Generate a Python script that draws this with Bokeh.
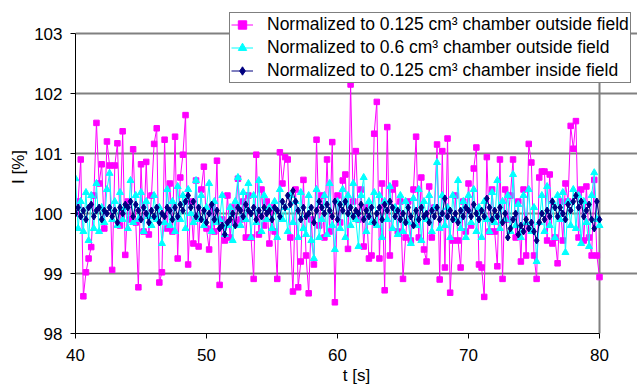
import numpy as np
from bokeh.plotting import figure
from bokeh.models import Legend, LegendItem, Range1d, FixedTicker
from bokeh.embed import file_html
from bokeh.resources import INLINE

# ---- data (sampled every 0.2 s from 40 s to 80 s) ----
t_start = 40.0
t_step = 0.2

label_mag = "Normalized to 0.125 cm³ chamber outside field"
label_cya = "Normalized to 0.6 cm³ chamber outside field"
label_nav = "Normalized to 0.125 cm³ chamber inside field"

mag = [
    100.0, 100.2, 100.9, 98.62, 99.02,
    99.25, 99.44, 100.3, 101.51, 100.5,
    100.82, 99.75, 101.2, 100.8, 99.06,
    100.8, 101.17, 99.8, 101.37, 99.31,
    100.2, 99.9, 101.07, 99.85, 98.77,
    100.82, 99.7, 100.86, 99.65, 100.3,
    101.16, 101.42, 98.85, 99.02, 101.23,
    99.75, 100.5, 99.7, 101.28, 99.25,
    100.6, 100.98, 101.64, 99.15, 100.2,
    99.5, 100.55, 99.45, 100.4, 100.78,
    99.75, 99.4, 100.1, 99.7, 100.88,
    98.81, 99.9, 99.55, 100.3, 99.6,
    100.1, 99.85, 100.58, 99.9, 100.2,
    99.6, 100.3, 99.6, 98.91, 100.98,
    99.65, 100.4, 99.8, 100.2, 99.5,
    100.1, 99.7, 98.91, 101.02, 100.5,
    100.94, 100.9, 99.6, 98.7, 100.4,
    98.77, 99.2, 100.56, 99.3, 98.67,
    99.9, 99.15, 101.23, 99.8, 100.3,
    99.6, 100.9, 99.7, 101.19, 98.52,
    100.3, 99.85, 100.55, 100.65, 99.41,
    102.15, 100.2, 101.04, 99.9, 100.4,
    99.45, 100.1, 99.25, 99.3, 101.33,
    101.86, 99.25, 100.5, 98.72, 101.44,
    99.3, 100.4, 100.5, 99.7, 100.2,
    98.91, 99.6, 100.2, 99.55, 100.4,
    101.28, 99.6, 100.6, 99.4, 99.2,
    100.45, 99.6, 100.1, 101.15, 98.9,
    101.04, 99.1, 101.25, 98.68, 99.55,
    100.3, 99.55, 99.1, 100.2, 99.7,
    100.5, 99.8, 100.75, 101.1, 99.15,
    99.1, 98.61, 100.94, 99.7, 100.4,
    99.7, 99.12, 100.9, 98.91, 100.4,
    99.9, 100.3, 100.9, 99.6, 100.2,
    99.2, 100.4, 99.3, 101.16, 100.85,
    99.3, 98.91, 100.6, 100.7, 100.7,
    99.55, 100.65, 99.5, 99.6, 99.17,
    100.2, 99.55, 100.5, 100.2, 101.46,
    101.08, 101.54, 99.6, 100.4, 99.55,
    100.45, 99.6, 99.3, 100.56, 99.3,
    98.94,
]

cya = [
    100.58, 99.75, 100.2, 99.7, 100.35,
    99.55, 100.3, 99.75, 100.5, 99.7,
    100.1, 99.85, 100.4, 100.67, 99.9,
    100.2, 99.8, 100.35, 99.9, 100.1,
    99.75, 100.55, 99.85, 100.3, 99.9,
    100.35, 99.7, 100.2, 99.95, 99.8,
    100.3, 99.9, 100.1, 99.5, 99.85,
    100.4, 99.8, 100.2, 99.7, 100.45,
    99.9, 100.3, 99.75, 100.4, 100.0,
    99.85, 100.55, 99.9, 100.3, 99.8,
    100.1, 100.5, 99.7, 100.2, 99.85,
    99.9, 100.3, 99.65, 99.8, 100.1,
    99.55, 100.2, 100.6, 99.8, 100.35,
    99.9, 100.5, 99.6, 100.3, 99.85,
    100.55, 99.7, 100.3, 99.9, 100.1,
    99.75, 100.2, 99.6, 100.4, 99.9,
    100.1, 99.7, 100.3, 99.85, 100.2,
    99.6, 100.35, 99.75, 99.65, 100.3,
    99.55, 99.25, 100.4, 99.6, 99.9,
    100.3, 99.65, 100.5, 99.8, 99.4,
    100.2, 99.75, 100.4, 99.6, 100.3,
    99.8, 100.5, 99.9, 99.45, 100.3,
    100.6, 99.7, 100.2, 99.85, 100.35,
    99.8, 100.3, 99.6, 100.2, 99.9,
    100.45, 99.75, 100.1, 99.65, 100.3,
    99.7, 100.2, 99.85, 99.5, 100.25,
    99.8, 100.4, 99.55, 100.2, 99.9,
    100.3, 99.7, 100.1, 100.85, 99.75,
    100.3, 99.8, 100.1, 99.6, 100.3,
    99.9, 100.55, 99.75, 100.2, 99.6,
    100.3, 99.85, 100.4, 99.7, 100.1,
    99.6, 100.2, 99.9, 99.7, 100.35,
    99.85, 100.55, 99.75, 100.2, 99.9,
    100.3, 99.7, 100.65, 99.8, 100.15,
    99.6, 100.3, 99.85, 100.4, 99.7,
    100.1, 99.2, 99.85, 100.3, 99.7,
    100.45, 99.8, 100.2, 99.6, 100.3,
    99.9, 100.35, 99.35, 100.2, 99.8,
    100.4, 99.75, 100.3, 99.5, 100.2,
    99.85, 99.45, 100.3, 100.68, 99.9,
    99.8,
]

nav = [
    100.0, 100.1, 99.95, 100.05, 99.9,
    100.1, 100.15, 99.95, 100.05, 100.1,
    99.9, 100.05, 100.0, 100.1, 99.95,
    100.05, 99.85, 100.1, 100.0, 100.15,
    100.1, 100.2, 99.95, 100.15, 100.05,
    99.9, 100.1, 100.0, 99.85, 100.05,
    99.95, 100.1, 99.85, 100.0, 99.95,
    100.1, 100.05, 99.9, 100.1, 99.95,
    100.15, 100.05, 100.2, 100.3, 100.1,
    100.2, 99.95, 100.1, 99.9, 100.05,
    99.85, 100.0, 100.15, 99.9, 100.05,
    99.75, 99.8, 99.65, 99.85, 99.9,
    100.0, 99.8, 100.1, 100.05, 99.95,
    100.15, 100.05, 100.0, 100.1, 99.9,
    100.05, 99.95, 100.1, 100.0, 100.05,
    99.9, 100.1, 100.05, 99.95, 100.2,
    100.1, 100.3, 100.15, 100.38, 100.2,
    100.05, 99.9, 100.1, 99.95, 100.0,
    100.1, 99.85, 100.05, 100.2, 100.1,
    100.0, 100.15, 100.05, 99.95, 100.2,
    99.9, 100.15, 100.05, 100.2, 100.0,
    100.1, 99.95, 100.05, 100.0, 100.15,
    99.9, 100.05, 99.95, 100.1, 99.85,
    100.0, 100.1, 99.9, 100.15, 100.05,
    100.2, 100.1, 99.95, 100.05, 99.9,
    100.0, 99.85, 100.1, 99.95, 99.8,
    100.05, 99.9, 100.1, 99.95, 100.0,
    99.85, 100.05, 99.95, 100.1, 99.9,
    100.0, 100.25, 99.95, 100.05, 99.9,
    100.0, 99.85, 100.05, 99.95, 100.1,
    100.05, 99.95, 100.15, 100.0, 99.9,
    100.05, 99.95, 100.25, 100.1, 99.9,
    100.05, 99.95, 100.1, 99.85, 100.0,
    99.6, 99.75, 99.9, 100.0, 99.65,
    99.8, 99.7, 99.9, 99.75, 99.85,
    99.7, 99.55, 99.85, 100.0, 99.9,
    100.05, 99.95, 100.2, 100.1, 99.95,
    100.1, 100.0, 99.9, 100.15, 100.05,
    100.2, 100.3, 100.1, 100.2, 99.95,
    100.05, 100.15, 99.9, 99.75, 100.2,
    99.9,
]

x_ticks = [40, 50, 60, 70, 80]
y_ticks = [98, 99, 100, 101, 102, 103]

t = [round(t_start + i * t_step, 1) for i in range(len(mag))]

FONT = "Liberation Sans"

# frame extends to the figure's top and right edges so the legend is not clipped;
# the visible plot area (40-80, 98-103) is bounded by the axes, grid and a border line
W, H = 637, 388
LEFT, BOTTOM = 75, 55
px_per_x = 13.1
px_per_y = 60.0
x_max = x_ticks[0] + (W - LEFT) / px_per_x
y_max = y_ticks[0] + (H - BOTTOM) / px_per_y

p = figure(width=W, height=H, output_backend="svg", toolbar_location=None,
           x_range=Range1d(x_ticks[0], x_max), y_range=Range1d(y_ticks[0], y_max),
           min_border_left=LEFT, min_border_right=0, min_border_top=0,
           min_border_bottom=BOTTOM)
p.background_fill_color = "white"
p.border_fill_color = "white"
p.outline_line_color = None

p.xgrid.visible = False
p.ygrid.grid_line_color = "#808080"
p.ygrid.grid_line_width = 2
p.ygrid.bounds = (x_ticks[0], x_ticks[-1])

# right border of plot area
p.segment(x0=[x_ticks[-1]], y0=[y_ticks[0]], x1=[x_ticks[-1]], y1=[y_ticks[-1]],
          line_color="#808080", line_width=2)

for ax in (p.xaxis, p.yaxis):
    ax.axis_line_color = "black"
    ax.major_tick_line_color = "black"
    ax.major_tick_in = 0
    ax.major_tick_out = 5
    ax.minor_tick_line_color = None
    ax.major_label_text_font = FONT
    ax.major_label_text_font_size = "17px"
    ax.major_label_text_color = "black"
    ax.axis_label_text_font = FONT
    ax.axis_label_text_font_size = "17px"
    ax.axis_label_text_font_style = "normal"
    ax.axis_label_text_color = "black"

p.xaxis.bounds = (x_ticks[0], x_ticks[-1])
p.yaxis.bounds = (y_ticks[0], y_ticks[-1])
p.xaxis.ticker = FixedTicker(ticks=x_ticks)
p.yaxis.ticker = FixedTicker(ticks=y_ticks)
p.xaxis.axis_label = "t [s]"
p.yaxis.axis_label = "I [%]"
p.xaxis.major_label_standoff = 10
p.xaxis.axis_label_standoff = 2
p.yaxis.major_label_standoff = 8
p.yaxis.axis_label_standoff = 3

lm = p.line(t, mag, line_color="#FF00FF", line_width=1)
sm = p.scatter(t, mag, marker="square", size=5.5, fill_color="#FF00FF", line_color="#FF00FF")
lc = p.line(t, cya, line_color="#00FFFF", line_width=1)
sc = p.scatter(t, cya, marker="triangle", size=7, fill_color="#00FFFF", line_color="#00FFFF")
ln = p.line(t, nav, line_color="#000080", line_width=1)
sn = p.scatter(t, nav, marker="diamond", size=7, fill_color="#000080", line_color="#000080")

legend = Legend(items=[
    LegendItem(label=label_mag, renderers=[lm, sm]),
    LegendItem(label=label_cya, renderers=[lc, sc]),
    LegendItem(label=label_nav, renderers=[ln, sn]),
], location=(154, 250))
legend.label_text_font = FONT
legend.label_text_font_size = "17.5px"
legend.label_text_color = "black"
legend.label_height = 21
legend.glyph_height = 21
legend.glyph_width = 22
legend.label_standoff = 14
legend.spacing = 2
legend.padding = 1
legend.margin = 0
legend.border_line_color = "black"
legend.border_line_width = 1
legend.background_fill_color = "white"
legend.background_fill_alpha = 1.0
p.add_layout(legend, "center")

open("out.html", "w").write(file_html(p, INLINE))
